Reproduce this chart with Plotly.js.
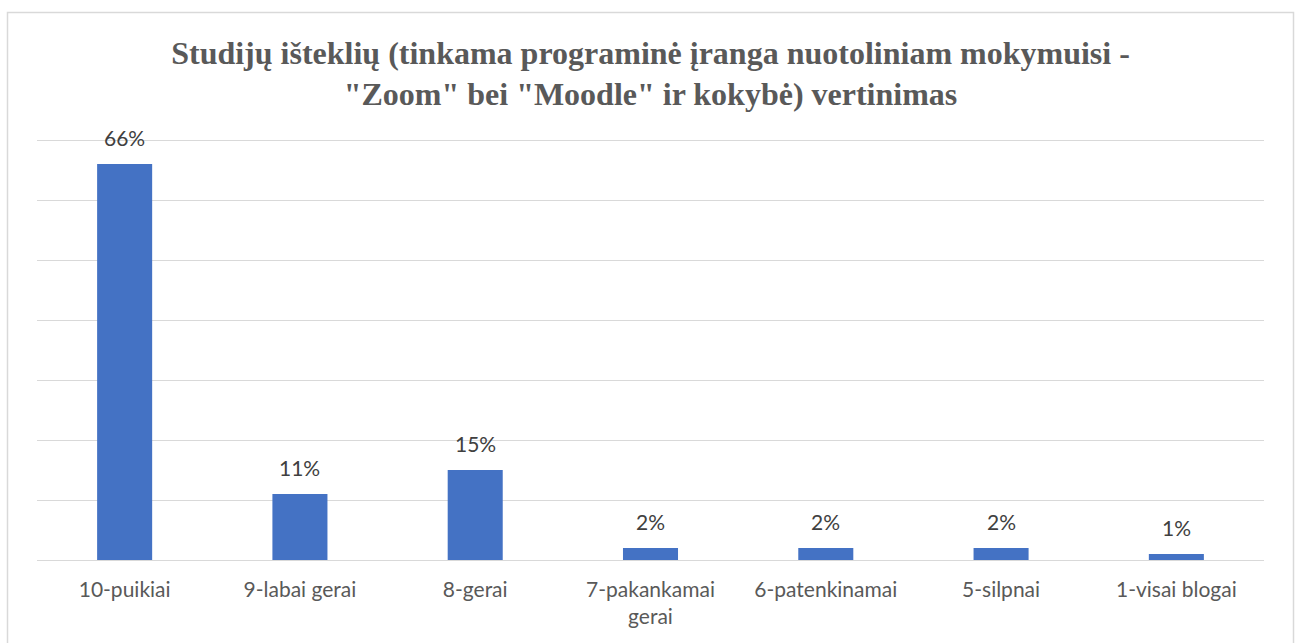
<!DOCTYPE html>
<html>
<head>
<meta charset="utf-8">
<script src="https://cdn.plot.ly/plotly-3.0.1.min.js"></script>
<style>html,body{margin:0;padding:0;background:#fff;}#chart{width:1299px;height:643px;}</style>
</head>
<body>
<div id="chart"></div>
<script>
const categories = ["10-puikiai", "9-labai gerai", "8-gerai", "7-pakankamai<br>gerai", "6-patenkinamai", "5-silpnai", "1-visai blogai"];
const values = [66, 11, 15, 2, 2, 2, 1];
const labels = ["66%", "11%", "15%", "2%", "2%", "2%", "1%"];
const titleText = "Studijų išteklių (tinkama programinė įranga nuotoliniam mokymuisi -<br>\"Zoom\" bei \"Moodle\" ir kokybė) vertinimas";

const font = "Lato, 'Open Sans', sans-serif";
const trace = {
  type: "bar",
  x: categories,
  y: values,
  marker: {color: "#4472C4"},
  hoverinfo: "none"
};
const annotations = categories.map((c, i) => ({
  x: c, y: values[i], xref: "x", yref: "y",
  text: labels[i], showarrow: false, yanchor: "bottom", yshift: 12,
  font: {family: font, size: 21, color: "#404040"}
}));
const layout = {
  width: 1299, height: 643,
  margin: {l: 37, r: 35, t: 137, b: 83},
  paper_bgcolor: "#fff", plot_bgcolor: "#fff",
  showlegend: false,
  bargap: 0.686,
  title: {
    text: titleText,
    font: {family: "'Liberation Serif', 'Times New Roman', serif", size: 32, color: "#595959", weight: "bold"},
    x: 0.5, xanchor: "center", xref: "paper",
    y: 1 - 63.5/643, yanchor: "middle", yref: "container"
  },
  xaxis: {
    type: "category",
    showgrid: false, zeroline: false, showline: false,
    ticks: "", ticklabelstandoff: 15,
    tickfont: {family: font, size: 21, color: "#595959"}
  },
  yaxis: {
    range: [0, 70.5], tickvals: [0, 10, 20, 30, 40, 50, 60, 70], showticklabels: false,
    showgrid: true, gridcolor: "#d9d9d9", gridwidth: 1,
    zeroline: true, zerolinecolor: "#d9d9d9", zerolinewidth: 1, showline: false, ticks: ""
  },
  annotations: annotations,
  shapes: [{
    type: "rect", xref: "paper", yref: "paper",
    x0: (7.5 - 37) / 1227, x1: (1293.5 - 37) / 1227,
    y0: -0.25, y1: (560 - 12.5) / 423,
    line: {color: "#d9d9d9", width: 1.5}, fillcolor: "rgba(0,0,0,0)", layer: "below"
  }]
};
Plotly.newPlot("chart", [trace], layout, {displayModeBar: false, staticPlot: true});
</script>
</body>
</html>
